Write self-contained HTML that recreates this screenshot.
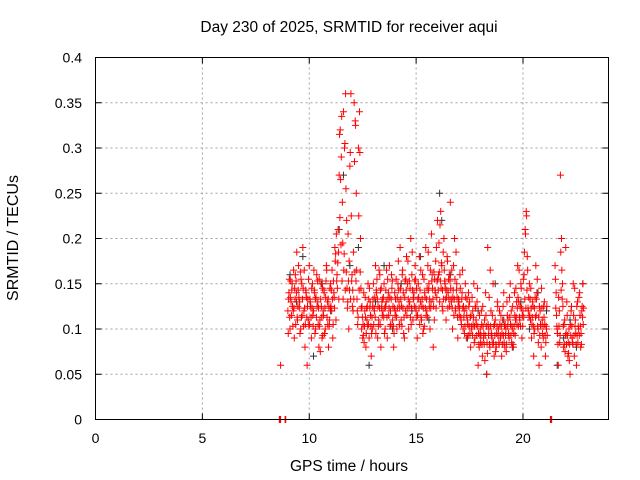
<!DOCTYPE html>
<html><head><meta charset="utf-8">
<style>
html,body{margin:0;padding:0;background:#fff;}
svg{display:block;font-family:"Liberation Sans",sans-serif;}
</style></head>
<body>
<svg id="chart" width="640" height="480" viewBox="0 0 640 480" xmlns="http://www.w3.org/2000/svg">
<rect width="640" height="480" fill="#fff"/>
<text x="349" y="32" font-size="15.5" text-anchor="middle">Day 230 of 2025, SRMTID for receiver aqui</text>
<text x="349" y="471" font-size="15.5" text-anchor="middle">GPS time / hours</text>
<text transform="translate(18,238) rotate(-90)" font-size="16" text-anchor="middle">SRMTID / TECUs</text>
<g id="grid"></g>
<g id="ticks"></g>
<g id="black" stroke="#333" stroke-width="1"></g>
<g id="red" stroke="#ff0000" stroke-width="1"></g>
<rect x="95.5" y="57.5" width="513" height="362" fill="none" stroke="#000"/>
</svg>
<script>
const xTicks=[0,5,10,15,20];
const yTicks=[0,0.05,0.1,0.15,0.2,0.25,0.3,0.35,0.4];
const yTickLabels=["0","0.05","0.1","0.15","0.2","0.25","0.3","0.35","0.4"];
const hours=[9,10,11,12,13,14,15,16,17,18,19,20,21,22];
const seriesPhase=[0,0.017,0.034];
const redA=[
.12,.14,.10,.13,.15,.12,.09,.16,.14,.11,.17,.13,.10,.15,.19,.12,.08,.14,.06,.11,
.17,.13,.09,.15,.12,.14,.10,.16,.13,.08,.11,.15,.09,.12,.14,.10,.17,.13,.08,.11,
.15,.12,.09,.14,.19,.11,.16,.21,.27,.32,.29,.24,.34,.30,.36,.22,.13,.10,.28,.36,
.16,.12,.35,.33,.25,.12,.30,.34,.20,.10,.09,.14,.12,.08,.11,.15,.09,.13,.07,.10,
.15,.12,.17,.14,.09,.11,.16,.08,.13,.12,.15,.10,.13,.09,.14,.17,.12,.16,.11,.08,
.14,.12,.10,.15,.13,.19,.11,.16,.14,.09,.12,.18,.15,.10,.13,.20,.16,.11,.14,.17,
.12,.09,.15,.18,.13,.11,.16,.10,.14,.19,.12,.17,.15,.10,.13,.16,.08,.11,.14,.19,
.22,.16,.13,.23,.17,.12,.20,.15,.11,.18,.14,.16,.24,.13,.10,.17,.20,.12,.15,.09,
.13,.16,.11,.14,.10,.12,.15,.09,.11,.14,.13,.08,.10,.12,.15,.09,.11,.13,.06,.08,
.10,.12,.07,.09,.11,.14,.05,.19,.10,.08,.12,.09,.15,.07,.11,.08,.13,.10,.12,.09,
.07,.11,.14,.08,.10,.13,.11,.09,.15,.12,.10,.08,.14,.11,.13,.17,.13,.11,.15,.09,
.12,.16,.21,.23,.18,.12,.15,.11,.09,.13,.07,.10,.17,.14,.10,.06,.12,.08,.11,.09,
.13,.07,.10,null,null,null,null,null,null,null,.17,.14,.10,.06,.12,.27,.20,.15,.08,.11,
.19,.13,.07,.10,.05,.12,.09,.15,.07,.11,.06,.13,.10,.14,.08,.12,.15,null,null,null];
const redB=[
.095,.155,.135,.115,.125,.165,.145,.105,.185,.125,.135,.095,.155,.115,.145,.165,.105,.135,.125,.155,
.105,.125,.145,.115,.165,.095,.135,.125,.105,.155,.075,.125,.145,.115,.095,.135,.165,.105,.125,.145,
.125,.165,.105,.135,.175,.205,.145,.185,.315,.265,.335,.195,.165,.305,.255,.145,.205,.175,.295,.225,
.125,.185,.285,.325,.165,.105,.225,.295,.145,.125,.105,.085,.135,.095,.125,.105,.145,.115,.095,.125,
.105,.135,.095,.155,.125,.165,.105,.145,.115,.135,.095,.125,.165,.155,.115,.135,.105,.145,.125,.095,
.115,.155,.135,.175,.105,.145,.125,.165,.095,.135,.155,.115,.175,.125,.145,.105,.185,.135,.125,.155,
.145,.115,.135,.105,.165,.125,.095,.155,.135,.115,.145,.185,.125,.165,.205,.145,.125,.155,.175,.135,
.155,.195,.215,.145,.125,.185,.165,.145,.135,.175,.155,.125,.145,.165,.135,.115,.155,.185,.135,.125,
.115,.145,.105,.165,.125,.095,.135,.115,.105,.125,.095,.115,.135,.105,.085,.125,.105,.145,.095,.115,
.085,.105,.125,.095,.065,.115,.085,.105,.135,.165,.095,.115,.085,.105,.075,.095,.125,.085,.105,.115,
.095,.125,.085,.105,.075,.115,.095,.135,.105,.085,.125,.095,.115,.145,.105,.135,.165,.125,.145,.115,
.155,.185,.205,.225,.165,.135,.115,.145,.105,.125,.095,.135,.115,.155,.085,.125,.105,.145,.095,.125,
.105,.085,.125,null,null,null,null,null,null,null,.155,.115,.095,.135,.085,.185,.165,.125,.105,.075,
.095,.115,.085,.065,.105,.125,.085,.115,.145,.095,.125,.085,.135,.115,.095,.125,.105,null,null,null];
const redC=[
.133,.113,.153,.143,.103,.123,.133,.153,.113,.143,.123,.163,.113,.133,.103,.123,.143,.113,.133,.103,
.133,.113,.123,.103,.143,.133,.113,.153,.123,.103,.133,.113,.093,.143,.123,.153,.113,.133,.103,.123,
.143,.133,.153,.123,.183,.153,.173,.133,.223,.193,.153,.133,.183,.143,.163,.123,.153,.143,.133,.153,
.143,.133,.163,.153,.133,.113,.143,.163,.123,.113,.093,.103,.113,.123,.103,.133,.123,.103,.113,.133,
.123,.113,.143,.133,.103,.123,.143,.123,.133,.113,.123,.143,.113,.133,.123,.103,.133,.153,.103,.123,
.133,.113,.123,.143,.123,.133,.103,.123,.113,.153,.143,.123,.133,.153,.113,.123,.143,.133,.153,.123,
.113,.133,.123,.143,.113,.133,.123,.103,.123,.133,.113,.143,.133,.123,.153,.133,.163,.143,.123,.153,
.143,.163,.153,.173,.143,.133,.153,.133,.143,.123,.133,.153,.133,.123,.143,.133,.123,.143,.113,.133,
.123,.113,.133,.123,.113,.103,.123,.133,.093,.103,.113,.103,.093,.113,.103,.123,.093,.103,.083,.093,
.093,.083,.103,.083,.093,.103,.073,.093,.083,.103,.093,.083,.103,.093,.083,.103,.093,.083,.093,.103,
.083,.093,.103,.093,.083,.103,.093,.113,.093,.103,.083,.103,.093,.113,.123,.103,.113,.103,.123,.103,
.113,.133,.123,.143,.123,.113,.133,.123,.113,.103,.123,.113,.133,.103,.113,.093,.103,.123,.103,.113,
.093,.103,.093,null,null,null,null,null,null,null,.123,.103,.083,.103,.093,.143,.133,.103,.083,.093,
.083,.093,.073,.083,.093,.103,.083,.093,.103,.083,.093,.103,.093,.103,.083,.113,.123,null,null,null];
const extraT=[8.6,8.63,8.66,8.87,8.9,21.28,21.31,21.34,8.66];
const extraV=[0,0,0,0,0,0,0,0,0.06];
const blackT=[9.1,9.4,9.7,10.2,10.6,11.0,11.4,11.6,11.9,12.3,12.8,13.1,13.5,13.9,14.3,14.8,15.2,15.6,16.1,16.2,16.6,17.0,17.4,17.9,18.3,18.7,19.1,19.5,19.9,20.3,20.7,21.1,21.6,21.9,22.2,22.5,22.8];
const blackV=[0.16,0.13,0.18,0.07,0.15,0.12,0.21,0.27,0.17,0.19,0.06,0.13,0.17,0.10,0.15,0.12,0.18,0.11,0.25,0.22,0.16,0.13,0.09,0.12,0.05,0.15,0.11,0.08,0.13,0.10,0.14,0.12,0.06,0.09,0.11,0.08,0.15];
const perHour=20;
const X=t=>95.5+t*(513/24);
const Y=v=>419.5-v*(362/0.4);
const NS="http://www.w3.org/2000/svg";
const grid=document.getElementById('grid'),ticks=document.getElementById('ticks');
function mk(tag,attrs,parent){const e=document.createElementNS(NS,tag);for(const k in attrs)e.setAttribute(k,attrs[k]);parent.appendChild(e);return e;}
xTicks.forEach(t=>{const x=X(t);
 if(t>0){const g=mk('line',{x1:x,x2:x,y1:57.5,y2:419.5,stroke:'#a0a0a0','stroke-dasharray':'2,3'},grid);
 
 }
 mk('line',{x1:x,x2:x,y1:419.5,y2:413.5,stroke:'#000'},ticks);mk('line',{x1:x,x2:x,y1:57.5,y2:63.5,stroke:'#000'},ticks);
 const l=mk('text',{x:x,y:443,'font-size':14,'text-anchor':'middle'},ticks);l.textContent=String(t);
 
 });
yTicks.forEach((v,i)=>{const y=Y(v);
 if(i>0&&i<yTicks.length-1){const g=mk('line',{x1:95.5,x2:608.5,y1:y,y2:y,stroke:'#a0a0a0','stroke-dasharray':'2,3'},grid);
 
 }
 mk('line',{x1:95.5,x2:101.5,y1:y,y2:y,stroke:'#000'},ticks);mk('line',{x1:608.5,x2:602.5,y1:y,y2:y,stroke:'#000'},ticks);
 const l=mk('text',{x:82,y:y+5,'font-size':14,'text-anchor':'end'},ticks);l.textContent=yTickLabels[i];
 
 });
function plus(g,t,v){const x=X(t),y=Y(v);const p=mk('path',{d:`M${x-3.5},${y}H${x+3.5}M${x},${y-3.5}V${y+3.5}`,fill:'none'},g);
 
 }
const bg=document.getElementById('black');blackT.forEach((t,i)=>plus(bg,t,blackV[i]));
const rg=document.getElementById('red');
[redA,redB,redC].forEach((arr,s)=>{arr.forEach((v,i)=>{if(v===null)return;
 const t=hours[Math.floor(i/perHour)]+(i%perHour)/perHour+seriesPhase[s];plus(rg,t,v);});});
extraT.forEach((t,i)=>plus(rg,t,extraV[i]));
</script>
</body></html>
